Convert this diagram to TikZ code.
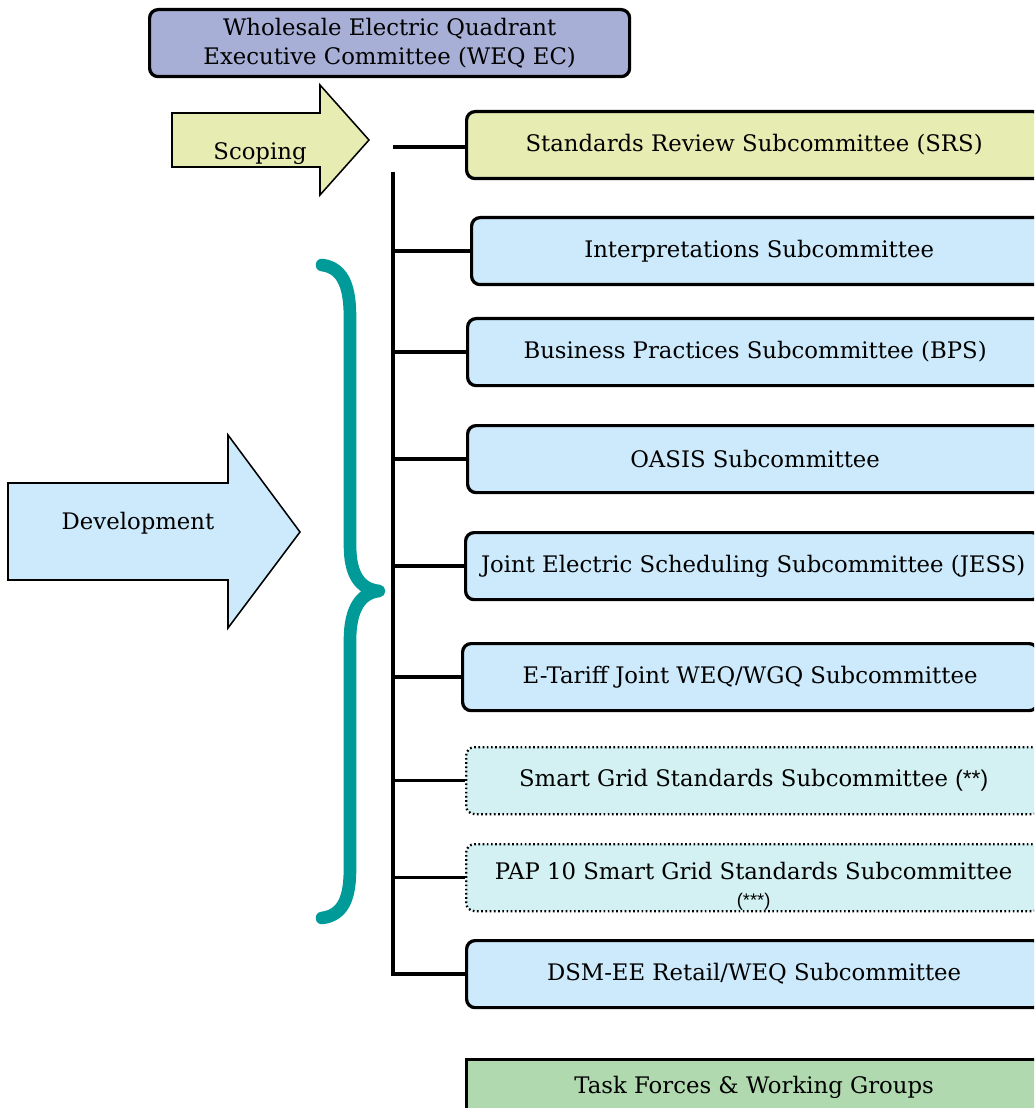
\documentclass[tikz,border=0pt]{standalone}
\usepackage{fontspec}
\setmainfont{DejaVu Serif}
\newfontfamily\notefont{Liberation Sans}
\usetikzlibrary{positioning}

\definecolor{ecblue}{HTML}{A7AFD6}
\definecolor{scopeyellow}{HTML}{E7ECB3}
\definecolor{devblue}{HTML}{CCEAFB}
\definecolor{gridcyan}{HTML}{D3F1F2}
\definecolor{taskgreen}{HTML}{B0D9AF}
\definecolor{braceteal}{HTML}{009A99}

\newcommand{\pxu}{0.025cm}
\newcommand{\boxfont}{\fontsize{16.2}{20}\selectfont}

\tikzset{
  sub/.style={draw, line width=2.3pt, rounded corners=6pt, fill=devblue, anchor=north west,
    minimum width=575*\pxu, minimum height=67*\pxu, inner sep=0pt, font=\boxfont, align=center},
  subdot/.style={sub, fill=gridcyan, line width=1.6pt, dash pattern=on 1.2pt off 1.8pt},
  link/.style={line width=2.5pt},
  bigarrow/.style={draw, line width=1.1pt},
}

\begin{document}
\begin{tikzpicture}[x=0.025cm, y=-0.025cm]
\clip (0,0) rectangle (1034,1108);

% Executive committee on top
\node[sub, fill=ecblue, minimum width=480*\pxu, minimum height=67*\pxu] (ec) at (148,8)
  {Wholesale Electric Quadrant\\Executive Committee (WEQ EC)};

% Scoping arrow
\draw[bigarrow, fill=scopeyellow] (172,113) -- (320,113) -- (320,85) -- (369,140) -- (320,195) -- (320,167) -- (172,167) -- cycle;
\node[font=\boxfont, anchor=base] (scoping) at (260,160) {Scoping};

% Development arrow
\draw[bigarrow, fill=devblue] (8,483) -- (228,483) -- (228,435) -- (300,532) -- (228,628) -- (228,580) -- (8,580) -- cycle;
\node[font=\boxfont] (development) at (138,523) {Development};

% Brace
\draw[braceteal, line width=9pt, line cap=round, line join=round]
  (322,265) .. controls (345,268) and (350,290) .. (350,318)
  -- (350,545) .. controls (350,575) and (360,589) .. (379,591)
  .. controls (360,593) and (350,610) .. (350,640)
  -- (350,868) .. controls (350,895) and (345,915) .. (322,918);

% Subcommittees
\node[sub, fill=scopeyellow] (srs) at (465,110) {Standards Review Subcommittee (SRS)};
\node[sub] (interp) at (470,216) {Interpretations Subcommittee};
\node[sub] (bps) at (466,317) {Business Practices Subcommittee (BPS)};
\node[sub] (oasis) at (466,424) {OASIS Subcommittee};
\node[sub] (jess) at (464,531) {Joint Electric Scheduling Subcommittee (JESS)};
\node[sub] (etariff) at (461,642) {E-Tariff Joint WEQ/WGQ Subcommittee};
\node[subdot] (sgs) at (465,746) {Smart Grid Standards Subcommittee {\notefont (**)}};
\node[subdot] (pap) at (465,843) {\rule{0pt}{25pt}PAP 10 Smart Grid Standards Subcommittee\\[-1pt]{\notefont\fontsize{13}{13}\selectfont (***)}};
\node[sub] (dsm) at (465,939) {DSM-EE Retail/WEQ Subcommittee};
\node[sub, fill=taskgreen, rounded corners=0pt, minimum height=80*\pxu, text depth=30*\pxu] (task) at (465,1058) {Task Forces \& Working Groups};

% Connectors
\coordinate (scopeend) at (393,147);
\coordinate (trunktop) at (393,172);
\draw[link] (scopeend) -- (srs.west |- scopeend);
\draw[link] (trunktop) -- (dsm.west -| trunktop) -- (dsm.west);
\draw[link] (interp.west) -- (interp.west -| trunktop);
\draw[link] (bps.west) -- (bps.west -| trunktop);
\draw[link] (oasis.west) -- (oasis.west -| trunktop);
\draw[link] (jess.west) -- (jess.west -| trunktop);
\draw[link] (etariff.west) -- (etariff.west -| trunktop);
\draw[link] (sgs.west) -- (sgs.west -| trunktop);
\draw[link] (pap.west) -- (pap.west -| trunktop);
\end{tikzpicture}
\end{document}
